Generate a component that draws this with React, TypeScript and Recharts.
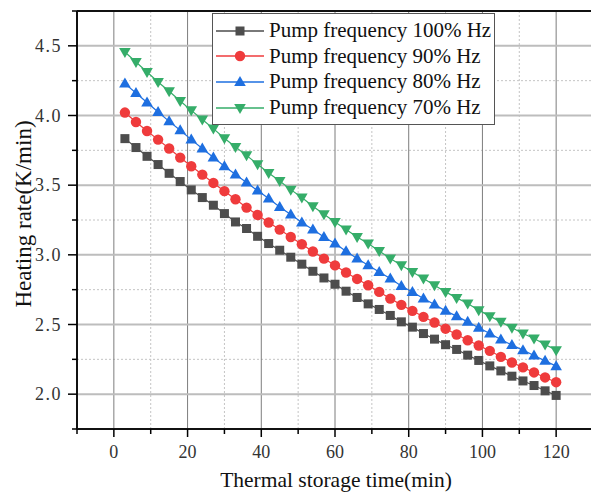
import React from 'react';
import { LineChart, Line, XAxis, YAxis, CartesianGrid } from 'recharts';

// thermal storage time (min)
const time = [3, 6, 9, 12, 15, 18, 21, 24, 27, 30, 33, 36, 39, 42, 45, 48, 51, 54, 57, 60,
  63, 66, 69, 72, 75, 78, 81, 84, 87, 90, 93, 96, 99, 102, 105, 108, 111, 114, 117, 120];

// heating rate (K/min) per pump frequency
const pump100 = [3.834, 3.770, 3.707, 3.648, 3.585, 3.526, 3.466, 3.411, 3.356, 3.296,
  3.236, 3.189, 3.133, 3.081, 3.033, 2.983, 2.933, 2.882, 2.834, 2.789,
  2.739, 2.694, 2.648, 2.608, 2.565, 2.519, 2.481, 2.435, 2.395, 2.355,
  2.321, 2.280, 2.242, 2.203, 2.167, 2.129, 2.095, 2.062, 2.024, 1.991];
const pump90 = [4.021, 3.953, 3.889, 3.827, 3.763, 3.698, 3.636, 3.576, 3.516, 3.457,
  3.399, 3.339, 3.286, 3.232, 3.181, 3.128, 3.076, 3.024, 2.973, 2.924,
  2.873, 2.827, 2.782, 2.734, 2.686, 2.641, 2.598, 2.555, 2.514, 2.470,
  2.428, 2.387, 2.349, 2.311, 2.268, 2.227, 2.192, 2.156, 2.120, 2.086];
const pump80 = [4.229, 4.161, 4.093, 4.025, 3.958, 3.894, 3.827, 3.763, 3.698, 3.636,
  3.576, 3.519, 3.461, 3.404, 3.344, 3.289, 3.232, 3.181, 3.128, 3.081,
  3.026, 2.973, 2.925, 2.877, 2.830, 2.777, 2.734, 2.686, 2.643, 2.598,
  2.560, 2.519, 2.476, 2.435, 2.392, 2.352, 2.316, 2.278, 2.239, 2.201];
const pump70 = [4.456, 4.384, 4.312, 4.240, 4.174, 4.104, 4.037, 3.971, 3.906, 3.837,
  3.774, 3.714, 3.650, 3.588, 3.530, 3.468, 3.411, 3.349, 3.291, 3.236,
  3.181, 3.128, 3.081, 3.028, 2.973, 2.925, 2.877, 2.830, 2.782, 2.734,
  2.691, 2.651, 2.603, 2.560, 2.519, 2.476, 2.435, 2.400, 2.357, 2.316];

const seriesNames = ['Pump frequency 100% Hz', 'Pump frequency 90% Hz', 'Pump frequency 80% Hz', 'Pump frequency 70% Hz'];

const xTicks = [-10, 0, 10, 20, 30, 40, 50, 60, 70, 80, 90, 100, 110, 120, 130];
const xMajor = [0, 20, 40, 60, 80, 100, 120];
const xMinor = [10, 30, 50, 70, 90, 110];
const yTicks = [1.75, 2, 2.25, 2.5, 2.75, 3, 3.25, 3.5, 3.75, 4, 4.25, 4.5, 4.75];
const yMajor = [2, 2.5, 3, 3.5, 4, 4.5];
const yMinor = [2.25, 2.75, 3.25, 3.75, 4.25];

const FONT = '"Liberation Serif", "Times New Roman", serif';

const series = [
  { key: 'p100', name: seriesNames[0], color: '#4d4d4d', shape: 'square' },
  { key: 'p90', name: seriesNames[1], color: '#ef3b3c', shape: 'circle' },
  { key: 'p80', name: seriesNames[2], color: '#1e6fe0', shape: 'up' },
  { key: 'p70', name: seriesNames[3], color: '#35ad69', shape: 'down' },
];

const data = time.map((t, i) => ({ t, p100: pump100[i], p90: pump90[i], p80: pump80[i], p70: pump70[i] }));

const Marker = ({ cx, cy, shape, color }: any) => {
  if (cx == null || cy == null) return null;
  if (shape === 'square') return <rect x={cx - 4.5} y={cy - 4.5} width={9} height={9} fill={color} />;
  if (shape === 'circle') return <circle cx={cx} cy={cy} r={5.2} fill={color} />;
  if (shape === 'up')
    return <polygon points={`${cx},${cy - 6} ${cx + 5.8},${cy + 4} ${cx - 5.8},${cy + 4}`} fill={color} />;
  return <polygon points={`${cx},${cy + 6} ${cx + 5.8},${cy - 4} ${cx - 5.8},${cy - 4}`} fill={color} />;
};

const XTick = ({ x, y, payload }: any) => {
  const major = payload.value % 20 === 0;
  return (
    <g>
      <line x1={x} x2={x} y1={y} y2={y + (major ? 8 : 5)} stroke="#000" strokeWidth={1.5} />
      {major && payload.value >= 0 && payload.value <= 120 && (
        <text x={x} y={y + 29} textAnchor="middle" style={{ fontFamily: FONT, fontSize: 18 }} fill="#333">
          {payload.value}
        </text>
      )}
    </g>
  );
};

const YTick = ({ x, y, payload }: any) => {
  const major = yMajor.includes(payload.value);
  return (
    <g>
      <line x1={x - (major ? 9 : 5)} x2={x} y1={y} y2={y} stroke="#000" strokeWidth={1.5} />
      {major && (
        <text x={x - 15} y={y} dy="0.35em" textAnchor="end" style={{ fontFamily: FONT, fontSize: 18, letterSpacing: 1.5 }} fill="#333">
          {payload.value.toFixed(1)}
        </text>
      )}
    </g>
  );
};

const Legend = () => (
  <div
    style={{
      position: 'absolute', left: 212, top: 13, width: 281, height: 106,
      border: '1px solid #555', background: '#fff', fontFamily: FONT, fontSize: 21,
      color: '#111', paddingTop: 4, boxSizing: 'content-box',
    }}
  >
    {series.map((s) => (
      <div key={s.key} style={{ display: 'flex', alignItems: 'center', height: 25.6, whiteSpace: 'nowrap' }}>
        <svg width={52} height={20} style={{ marginLeft: 2 }}>
          <line x1={1} x2={49} y1={10} y2={10} stroke={s.color} strokeWidth={1.3} />
          <Marker cx={25} cy={10} shape={s.shape} color={s.color} />
        </svg>
        <span style={{ marginLeft: 2 }}>{s.name}</span>
      </div>
    ))}
  </div>
);

export default function App() {
  return (
    <div style={{ position: 'absolute', left: 0, top: 0, width: 591, height: 492, overflow: 'hidden', background: '#fff' }}>
      <LineChart width={600} height={492} data={data} margin={{ top: 11, right: 7, left: 0, bottom: 0 }}>
        <CartesianGrid horizontal={false} verticalValues={xMinor} stroke="#c4c4c4" strokeDasharray="2 2" />
        <CartesianGrid vertical={false} horizontalValues={yMinor} stroke="#c4c4c4" strokeDasharray="2 2" />
        <CartesianGrid horizontal={false} verticalValues={xMajor} stroke="#7d7d7d" />
        <CartesianGrid vertical={false} horizontalValues={yMajor} stroke="#bdbdbd" strokeWidth={2} />
        <CartesianGrid vertical={false} horizontalValues={[4.75]} stroke="#111" strokeWidth={2} />
        <XAxis
          dataKey="t"
          type="number"
          domain={[-10, 130]}
          ticks={xTicks}
          allowDataOverflow
          height={63}
          tickSize={0}
          tickMargin={0}
          tickLine={false}
          axisLine={{ stroke: '#111', strokeWidth: 2 }}
          tick={<XTick />}
          interval={0}
          label={{
            content: () => (
              <text x={336} y={487} textAnchor="middle" style={{ fontFamily: FONT, fontSize: 21.5 }} fill="#111">
                Thermal storage time(min)
              </text>
            ),
          }}
        />
        <YAxis
          type="number"
          domain={[1.75, 4.75]}
          ticks={yTicks}
          allowDataOverflow
          width={77}
          tickSize={0}
          tickMargin={0}
          tickLine={false}
          axisLine={{ stroke: '#111', strokeWidth: 2 }}
          tick={<YTick />}
          interval={0}
          label={{
            content: () => (
              <text
                x={31}
                y={214}
                transform="rotate(-90 31 214)"
                textAnchor="middle"
                style={{ fontFamily: FONT, fontSize: 23 }}
                fill="#111"
              >
                Heating rate(K/min)
              </text>
            ),
          }}
        />
        {series.map((s) => (
          <Line
            key={s.key}
            type="linear"
            dataKey={s.key}
            name={s.name}
            stroke={s.color}
            strokeWidth={1.2}
            isAnimationActive={false}
            dot={(p: any) => <Marker key={`${s.key}-${p.index}`} cx={p.cx} cy={p.cy} shape={s.shape} color={s.color} />}
            activeDot={false}
          />
        ))}
      </LineChart>
      <Legend />
    </div>
  );
}
